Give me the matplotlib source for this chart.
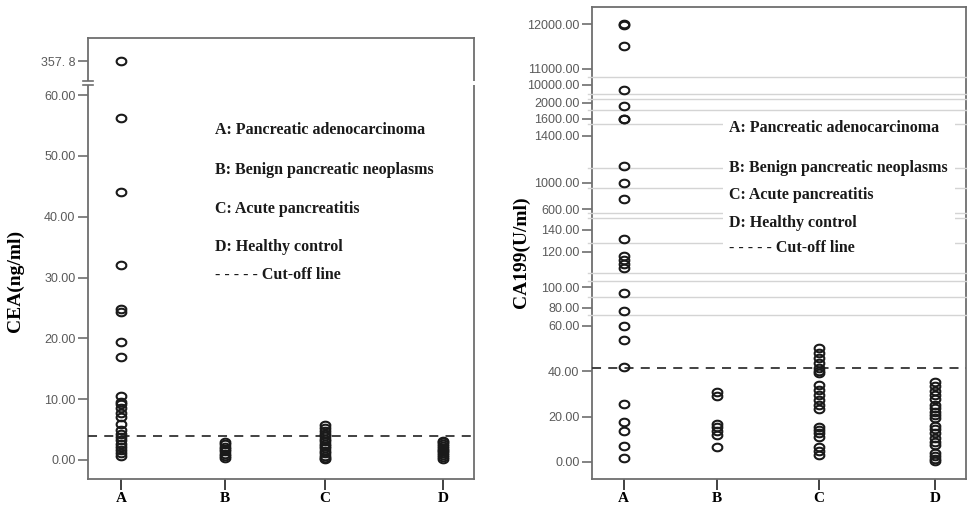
import numpy as np
import matplotlib
matplotlib.use("Agg")
import matplotlib.pyplot as plt
from matplotlib.path import Path
from matplotlib.patches import Rectangle

# ---------------- data ----------------
groups = ["A", "B", "C", "D"]
legend_lines = ["A: Pancreatic adenocarcinoma", "B: Benign pancreatic neoplasms",
                "C: Acute pancreatitis", "D: Healthy control", "- - - - - Cut-off line"]

cea_A = [357.8, 56.3, 44.0, 32.0, 24.8, 24.3, 19.4, 16.9, 10.6, 9.6, 9.2, 8.6, 7.7,
         7.0, 6.0, 4.9, 4.3, 3.8, 3.3, 2.7, 2.2, 1.6, 1.1, 0.7]
cea_B = [3.0, 2.6, 2.2, 1.8, 1.4, 1.0, 0.6, 0.3]
cea_C = [5.8, 5.3, 4.8, 4.3, 3.9, 3.5, 3.1, 2.7, 2.3, 1.9, 1.5, 1.1, 0.7, 0.4, 0.1]
cea_D = [3.2, 2.9, 2.6, 2.3, 2.0, 1.7, 1.4, 1.1, 0.8, 0.5, 0.2]
cea_cutoff = 4.0
cea_ticks = [0, 10, 20, 30, 40, 50, 60, 357.8]
cea_ticklabels = ["0.00", "10.00", "20.00", "30.00", "40.00", "50.00", "60.00", "357. 8"]

ca_A = [12000, 11990, 11515, 7600, 1925, 1600, 1595, 1146, 1000, 752, 131.4,
        117.5, 115.4, 113.1, 110.7, 94.8, 76.6, 60.0, 53.7, 41.9, 25.5, 17.8,
        13.7, 7.2, 1.8]
ca_B = [31.0, 29.1, 16.7, 15.3, 13.7, 11.9, 6.7]
ca_C = [50.1, 47.9, 45.7, 43.5, 41.3, 40.2, 39.3, 33.9, 31.7, 29.5, 27.3, 25.1,
        23.6, 15.6, 14.1, 12.6, 11.1, 6.7, 5.0, 3.1]
ca_D = [35.4, 33.5, 31.4, 29.5, 27.6, 25.1, 23.7, 22.2, 20.7, 19.3, 15.9, 14.4,
        12.6, 10.4, 8.9, 7.5, 4.1, 2.6, 1.2, 0.3]
ca_cutoff = 41.3
ca_ticks = [0, 20, 40, 60, 80, 100, 120, 140, 600, 1000, 1400, 1600, 2000,
            10000, 11000, 12000]

# ---------------- layout / scale geometry ----------------
W, H = 968, 509
fig = plt.figure(figsize=(W / 100, H / 100), dpi=100)

serif = "Liberation Serif"
sans = "Liberation Sans"
tick_col = "#5a5a5a"
spine_col = "#6e6e6e"

theta = np.linspace(0, 2 * np.pi, 50)
ell = Path(np.c_[np.cos(theta), 0.78 * np.sin(theta)])


def ax_rect(x0, y0, x1, y1):
    return [x0 / W, 1 - y1 / H, (x1 - x0) / W, (y1 - y0) / H]


def make_scale(knot_vals, knot_pos):
    kv = np.asarray(knot_vals, float)
    kp = np.asarray(knot_pos, float)
    s0 = (kp[1] - kp[0]) / (kv[1] - kv[0])
    s1 = (kp[-1] - kp[-2]) / (kv[-1] - kv[-2])
    kv = np.r_[kv[0] - 1e5, kv, kv[-1] + 1e6]
    kp = np.r_[kp[0] - 1e5 * s0, kp, kp[-1] + 1e6 * s1]

    def fwd(v):
        return np.interp(v, kv, kp)

    def inv(p):
        return np.interp(p, kp, kv)
    return fwd, inv


def style_axes(ax, positions):
    for s in ax.spines.values():
        s.set_color(spine_col)
        s.set_linewidth(1.3)
    ax.tick_params(axis="y", direction="out", length=7, width=1.2, color=spine_col,
                   labelsize=9, labelcolor=tick_col, pad=2)
    ax.tick_params(axis="x", direction="out", length=8, width=1.3, color="#333333",
                   labelsize=11, pad=1.5)
    ax.set_xticks(positions)
    ax.set_xticklabels(groups, fontfamily=serif, fontweight="bold")
    for lab in ax.get_yticklabels():
        lab.set_fontfamily(sans)


def scatter_groups(ax, positions, series):
    for x, vals in zip(positions, series):
        ax.plot([x] * len(vals), vals, linestyle="none", marker=ell, markersize=7,
                markerfacecolor="none", markeredgecolor="#1a1a1a", markeredgewidth=1.5,
                zorder=5)


# ---------- left panel: CEA ----------
axL = fig.add_axes(ax_rect(88, 38, 474, 479))
posL = [1.0, 1.97, 2.9, 4.0]
fL, iL = make_scale([0, 60, 357.8], [0, 365, 399])
axL.set_yscale("function", functions=(fL, iL))
axL.set_xlim(0.69, 4.29)
axL.set_ylim(iL(-19), iL(422))
scatter_groups(axL, posL, [cea_A, cea_B, cea_C, cea_D])
axL.axhline(cea_cutoff, color="#333333", linestyle=(0, (5, 4)), linewidth=1.3, zorder=4)
axL.set_yticks(cea_ticks)
axL.set_yticklabels(cea_ticklabels)
style_axes(axL, posL)
axL.set_ylabel("CEA(ng/ml)", fontfamily=serif, fontweight="bold", fontsize=14)
axL.yaxis.set_label_coords(-0.165, 0.45)

# axis break on left panel (between 60 and 357.8)
yb1 = (479 - 85) / 441.0
yb2 = (479 - 81) / 441.0
for xs in (0.0, 1.0):
    axL.add_patch(Rectangle((xs - 0.01, yb1), 0.02, yb2 - yb1, transform=axL.transAxes,
                            facecolor="white", edgecolor="none", clip_on=False, zorder=6))
for yy in (yb1, yb2):
    axL.plot([-0.012, 0.012], [yy, yy], transform=axL.transAxes, color=spine_col,
             linewidth=1.2, clip_on=False, zorder=7)

legL_y = [130, 170, 209, 247, 275]
for txt, yy in zip(legend_lines, legL_y):
    axL.text((215 - 88) / 386, (479 - yy) / 441, txt, transform=axL.transAxes,
             fontfamily=serif, fontweight="bold", fontsize=11.5, va="center", ha="left",
             color="#1a1a1a")

# ---------- right panel: CA199 ----------
axR = fig.add_axes(ax_rect(592, 7, 966, 479))
posR = [1.0, 1.97, 3.02, 4.23]
ca_pix = [462, 416.7, 371.3, 325.7, 308, 287.3, 251.7, 230, 209.3, 183, 135.7, 119,
          103, 85, 69, 24.3]
fR, iR = make_scale(ca_ticks, [462 - p for p in ca_pix])
axR.set_yscale("function", functions=(fR, iR))
axR.set_xlim(0.67, 4.55)
axR.set_ylim(iR(462 - 479), iR(462 - 7))

# faint break lines
break_pix = [77, 94, 99, 110, 124, 168, 188, 213, 218, 243, 273, 281, 297, 315]
for bp in break_pix:
    yv = iR(462 - bp)
    axR.axhline(yv, color="#d4d4d4", linewidth=1.0, zorder=3, clip_on=False,
                xmin=-0.01, xmax=1.0)
axR.add_patch(Rectangle(((723 - 592) / 374, (479 - 258) / 472), (955 - 723) / 374,
                        (258 - 115) / 472, transform=axR.transAxes, facecolor="white",
                        edgecolor="none", zorder=3.5))

scatter_groups(axR, posR, [ca_A, ca_B, ca_C, ca_D])
axR.axhline(ca_cutoff, color="#333333", linestyle=(0, (5, 4)), linewidth=1.3, zorder=4)
axR.set_yticks(ca_ticks)
axR.set_yticklabels(["%.2f" % t for t in ca_ticks])
style_axes(axR, posR)
axR.set_ylabel("CA199(U/ml)", fontfamily=serif, fontweight="bold", fontsize=14)
axR.yaxis.set_label_coords(-0.165, 0.48)

legR_y = [128, 168, 195, 223, 248]
for txt, yy in zip(legend_lines, legR_y):
    axR.text((729 - 592) / 374, (479 - yy) / 472, txt, transform=axR.transAxes,
             fontfamily=serif, fontweight="bold", fontsize=11.5, va="center", ha="left",
             color="#1a1a1a", zorder=6)

fig.savefig("out.png", dpi=100)
